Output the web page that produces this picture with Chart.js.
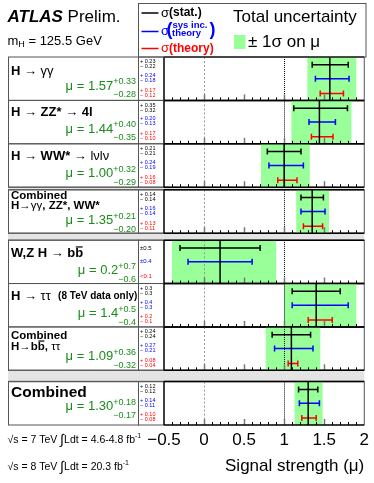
<!DOCTYPE html>
<html>
<head>
<meta charset="utf-8">
<script src="https://cdn.jsdelivr.net/npm/chart.js@4"></script>
<style>
  html, body { margin: 0; padding: 0; background: #fff; overflow: hidden; }
  canvas { display: block; }
</style>
</head>
<body>
<canvas id="mu" width="374" height="483"></canvas>
<script>
const FONT = '"Liberation Sans", Arial, Helvetica, sans-serif';

// signal strength per channel (m_H = 125.5 GeV)
const channels = ['H→γγ', 'H→ZZ*→4l', 'H→WW*→lνlν', 'Comb. γγ,ZZ*,WW*', 'W,Z H→bb', 'H→ττ', 'Comb. bb,ττ', 'Combined'];
const mu     = [1.57, 1.44, 1.00, 1.35, 0.2, 1.4, 1.09, 1.30];
const totUp  = [0.33, 0.40, 0.32, 0.21, 0.7, 0.5, 0.36, 0.18];
const totDn  = [0.28, 0.35, 0.29, 0.20, 0.6, 0.4, 0.32, 0.17];
const statUp = [0.23, 0.35, 0.21, 0.14, 0.5, 0.3, 0.24, 0.12];
const statDn = [0.22, 0.32, 0.21, 0.14, 0.5, 0.3, 0.24, 0.12];
const sysUp  = [0.24, 0.20, 0.24, 0.16, 0.4, 0.4, 0.27, 0.14];
const sysDn  = [0.18, 0.13, 0.19, 0.14, 0.4, 0.3, 0.21, 0.11];
const thUp   = [0.17, 0.17, 0.16, 0.13, null, 0.2, 0.08, 0.10];
const thDn   = [0.12, 0.10, 0.08, 0.11, null, 0.1, 0.04, 0.08];
const thLimit = {4: '<0.1'};
const decimals = [2, 2, 2, 2, 1, 1, 2, 2];
const symmetric = [false, false, false, false, true, false, false, false];
const xTicks = [-0.5, 0, 0.5, 1, 1.5, 2];

// layout of the panels (y in panel units)
const gapAfter = [0, 0, 0.06, 0.16, 0, 0, 0.26, 0];
const rowPos = [0.18, 0.5, 0.84];       // stat, sys, theory rows
const rowColor = ['#000', '#0000ff', '#ff0000'];
const panelTop = [];
let yEnd = 0;
gapAfter.forEach(g => { panelTop.push(yEnd); yEnd += 1 + g; });

// panel captions: lines of text pieces
const titles = [
  [{y: 14, size: 13, parts: [{t: 'H ', b: 1}, {t: '→ γγ'}]}],
  [{y: 12, size: 13, parts: [{t: 'H ', b: 1}, {t: '→ '}, {t: 'ZZ* ', b: 1}, {t: '→ '}, {t: '4l', b: 1}]}],
  [{y: 13, size: 13, parts: [{t: 'H ', b: 1}, {t: '→ '}, {t: 'WW* ', b: 1}, {t: '→ lνlν'}]}],
  [{y: 6, size: 11.5, parts: [{t: 'Combined', b: 1}]},
   {y: 16, size: 11.5, parts: [{t: 'H', b: 1}, {t: '→γγ'}, {t: ', ZZ*, WW*', b: 1}]}],
  [{y: 13, size: 13, parts: [{t: 'W,Z H ', b: 1}, {t: '→ '}, {t: 'bb', b: 1, o: 1}]}],
  [{y: 13, size: 13, parts: [{t: 'H ', b: 1}, {t: '→ ττ  '}, {t: '(8 TeV data only)', b: 1, s: 10}]}],
  [{y: 8.5, size: 11.5, parts: [{t: 'Combined', b: 1}]},
   {y: 19.5, size: 11.5, parts: [{t: 'H→', b: 1}, {t: 'bb', b: 1, o: 1}, {t: ', ', b: 1}, {t: 'ττ'}]}],
  [{y: 11.5, size: 15.5, parts: [{t: 'Combined', b: 1}]}]
];
const muRow = [29.5, 28.7, 30, 31, 30.5, 30.2, 29.7, 25];

function errorBars(lo, hi, row) {
  const pts = [];
  mu.forEach((m, i) => {
    if (hi[i] == null) return;
    const y = panelTop[i] + rowPos[row];
    pts.push({x: m - lo[i], y: y}, {x: m + hi[i], y: y}, {x: null, y: null});
  });
  return pts;
}
function centerLines() {
  const pts = [];
  mu.forEach((m, i) => {
    pts.push({x: m, y: panelTop[i]}, {x: m, y: panelTop[i] + 1}, {x: null, y: null});
  });
  return pts;
}
function barSet(label, data, color) {
  return {
    label: label, data: data, showLine: true, borderColor: color, backgroundColor: color,
    borderWidth: 1.5, pointStyle: 'line', rotation: 90, pointRadius: 3, pointHoverRadius: 3,
    pointBorderWidth: 1.5, pointBorderColor: color
  };
}

function rich(ctx, x, y, parts, size) {
  for (const p of parts) {
    const s = p.s || size;
    ctx.font = (p.i ? 'italic ' : '') + (p.b ? 'bold ' : '') + s + 'px ' + FONT;
    ctx.fillText(p.t, x, y + (p.dy || 0));
    const w = ctx.measureText(p.t).width;
    if (p.o) {
      const cw = ctx.measureText(p.t.slice(-1)).width;
      ctx.fillRect(x + w - cw + 0.5, y - s * 0.52, cw - 1, 1.2);
    }
    x += w;
  }
  return x;
}

const frame = {
  id: 'frame',
  beforeDatasetsDraw(chart) {
    const {ctx, scales: {x, y}} = chart;
    const L = 8, C = 138, P = x.left, R = x.right;
    ctx.save();
    // gaps between groups
    gapAfter.forEach((g, i) => {
      if (!g) return;
      const y0 = y.getPixelForValue(panelTop[i] + 1), y1 = y.getPixelForValue(panelTop[i + 1]);
      ctx.fillStyle = '#e4e4e4';
      ctx.fillRect(L, y0, R - L, y1 - y0);
      ctx.strokeStyle = '#888'; ctx.lineWidth = 1.5;
      ctx.beginPath();
      ctx.moveTo(L, y0); ctx.lineTo(R, y0);
      ctx.moveTo(L, y1); ctx.lineTo(R, y1);
      ctx.stroke();
    });
    mu.forEach((m, i) => {
      const y0 = y.getPixelForValue(panelTop[i]), y1 = y.getPixelForValue(panelTop[i] + 1);
      // total uncertainty band
      const x0 = x.getPixelForValue(m - totDn[i]), x1 = x.getPixelForValue(m + totUp[i]);
      ctx.fillStyle = '#99ff99';
      ctx.fillRect(x0, y0, x1 - x0, y1 - y0);
      // mu = 0 and mu = 1 lines
      ctx.lineWidth = 1;
      ctx.setLineDash([2, 2]); ctx.strokeStyle = '#999';
      ctx.beginPath(); ctx.moveTo(Math.round(x.getPixelForValue(0)) + 0.5, y0); ctx.lineTo(Math.round(x.getPixelForValue(0)) + 0.5, y1); ctx.stroke();
      ctx.setLineDash([1, 1]); ctx.strokeStyle = '#000';
      ctx.beginPath(); ctx.moveTo(Math.round(x.getPixelForValue(1)) + 0.5, y0); ctx.lineTo(Math.round(x.getPixelForValue(1)) + 0.5, y1); ctx.stroke();
      ctx.setLineDash([]);
      // ticks at the bottom of each panel
      for (let k = -4; k <= 19; k++) {
        const major = k % 5 === 0;
        const px = Math.round(x.getPixelForValue(k / 10)) + 0.5;
        ctx.strokeStyle = major ? '#777' : '#000';
        ctx.lineWidth = major ? 1.5 : 1;
        ctx.beginPath(); ctx.moveTo(px, y1); ctx.lineTo(px, y1 - (major ? 6 : 3)); ctx.stroke();
      }
      // frames
      ctx.strokeStyle = '#555'; ctx.lineWidth = 1;
      ctx.strokeRect(L + 0.5, y0, C - L, y1 - y0);
      ctx.beginPath(); ctx.moveTo(C, y0); ctx.lineTo(P, y0); ctx.moveTo(C, y1); ctx.lineTo(P, y1);
      ctx.moveTo(R, y0); ctx.lineTo(R, y1); ctx.stroke();
      ctx.strokeStyle = '#000'; ctx.lineWidth = 1.5;
      ctx.beginPath(); ctx.moveTo(P, y0); ctx.lineTo(R, y0); ctx.moveTo(P, y1); ctx.lineTo(R, y1);
      ctx.moveTo(P, y0); ctx.lineTo(P, y1); ctx.stroke();
    });
    ctx.restore();
  },
  afterDraw(chart) {
    const {ctx, scales: {y}} = chart;
    ctx.save();
    ctx.textBaseline = 'middle';
    ctx.textAlign = 'left';
    const rows = [[statUp, statDn], [sysUp, sysDn], [thUp, thDn]];
    mu.forEach((m, i) => {
      const top = y.getPixelForValue(panelTop[i]);
      ctx.fillStyle = '#000';
      titles[i].forEach(line => rich(ctx, 11, top + line.y, line.parts, line.size));
      // mu value with total uncertainty
      const d = decimals[i];
      const sup = '+' + totUp[i].toFixed(d), sub = '−' + totDn[i].toFixed(d);
      ctx.font = '9px ' + FONT;
      const w = Math.max(ctx.measureText(sup).width, ctx.measureText(sub).width);
      const xr = 136 - w, ym = top + muRow[i];
      ctx.fillStyle = '#1a8c1a';
      ctx.fillText(sup, xr, ym - 4.5);
      ctx.fillText(sub, xr, ym + 8.5);
      ctx.font = '13px ' + FONT;
      ctx.textAlign = 'right';
      ctx.fillText('μ = ' + m.toFixed(d), xr, ym);
      ctx.textAlign = 'left';
      // breakdown column
      rows.forEach(([up, dn], r) => {
        const yb = y.getPixelForValue(panelTop[i] + rowPos[r]);
        ctx.fillStyle = rowColor[r];
        if (symmetric[i]) {
          ctx.font = '6px ' + FONT;
          ctx.fillText(up[i] == null ? thLimit[i] : '±' + up[i].toFixed(d), 140, yb);
        } else {
          ctx.font = '5.5px ' + FONT;
          ctx.fillText('+ ' + up[i].toFixed(d), 140, yb - 3.2);
          ctx.fillText('− ' + dn[i].toFixed(d), 140, yb + 1.8);
        }
      });
    });

    // header
    ctx.fillStyle = '#000';
    rich(ctx, 7.5, 17, [{t: 'ATLAS', b: 1, i: 1}, {t: ' Prelim.'}], 17);
    rich(ctx, 7.5, 41, [{t: 'm'}, {t: 'H', s: 9, dy: 4}, {t: ' = 125.5 GeV'}], 13);

    // legend
    ctx.strokeStyle = '#555'; ctx.lineWidth = 1;
    ctx.strokeRect(138.5, 3.5, 227.5, 53.5);
    const ly = [13, 31.5, 48.5];
    ctx.lineWidth = 1.5;
    ly.forEach((v, r) => {
      ctx.strokeStyle = rowColor[r];
      ctx.beginPath(); ctx.moveTo(141.5, v); ctx.lineTo(158.5, v); ctx.stroke();
    });
    ctx.fillStyle = rowColor[0];
    rich(ctx, 161, ly[0], [{t: 'σ', s: 13}, {t: '(stat.)', b: 1}], 12);
    ctx.fillStyle = rowColor[1];
    rich(ctx, 161, ly[1], [{t: 'σ'}], 13);
    ctx.font = 'bold 18px ' + FONT;
    ctx.fillText('(', 166.5, ly[1] - 1);
    ctx.fillText(')', 209.5, ly[1] - 1);
    ctx.font = 'bold 9.5px ' + FONT;
    ctx.fillText('sys inc.', 172.5, 25);
    ctx.fillText('theory', 172, 33.5);
    ctx.fillStyle = rowColor[2];
    rich(ctx, 161, ly[2], [{t: 'σ', s: 13}, {t: '(theory)', b: 1}], 12);
    ctx.fillStyle = '#000';
    ctx.font = '17px ' + FONT;
    ctx.fillText('Total uncertainty', 233, 17.5);
    ctx.fillStyle = '#99ff99';
    ctx.fillRect(234, 35, 11.5, 14);
    ctx.fillStyle = '#000';
    ctx.fillText('± 1σ on μ', 248, 42.5);

    // luminosity
    rich(ctx, 7.5, 440, [{t: '√s = 7 TeV '}, {t: '∫', s: 14}, {t: 'Ldt = 4.6-4.8 fb'}, {t: '-1', s: 7, dy: -4}], 10.5);
    rich(ctx, 7.5, 467, [{t: '√s = 8 TeV '}, {t: '∫', s: 14}, {t: 'Ldt = 20.3 fb'}, {t: '-1', s: 7, dy: -4}], 10.5);
    ctx.restore();
  }
};

new Chart(document.getElementById('mu'), {
  type: 'scatter',
  data: {
    datasets: [
      {label: 'mu', data: centerLines(), showLine: true, borderColor: '#000', borderWidth: 1.5, pointRadius: 0, pointHoverRadius: 0},
      barSet('stat', errorBars(statDn, statUp, 0), rowColor[0]),
      barSet('sys inc. theory', errorBars(sysDn, sysUp, 1), rowColor[1]),
      barSet('theory', errorBars(thDn, thUp, 2), rowColor[2])
    ]
  },
  options: {
    responsive: false,
    animation: false,
    devicePixelRatio: 1,
    events: [],
    layout: {padding: {left: 164, right: 8, top: 57, bottom: 6}},
    plugins: {legend: {display: false}, tooltip: {enabled: false}},
    scales: {
      x: {
        type: 'linear', min: -0.5, max: 2,
        grid: {display: false, drawTicks: false},
        border: {display: false},
        afterBuildTicks: s => { s.ticks = xTicks.map(v => ({value: v})); },
        afterFit: s => { s.height = 52; },
        ticks: {
          color: '#000', padding: 5, maxRotation: 0, autoSkip: false,
          font: {family: FONT, size: 17},
          callback: v => v < 0 ? '−' + (-v) : String(v)
        },
        title: {
          display: true, text: 'Signal strength (μ)', align: 'end', color: '#000',
          font: {family: FONT, size: 17}, padding: {top: 4, bottom: 0}
        }
      },
      y: {type: 'linear', reverse: true, min: 0, max: yEnd, display: false}
    }
  },
  plugins: [frame]
});
</script>
</body>
</html>
